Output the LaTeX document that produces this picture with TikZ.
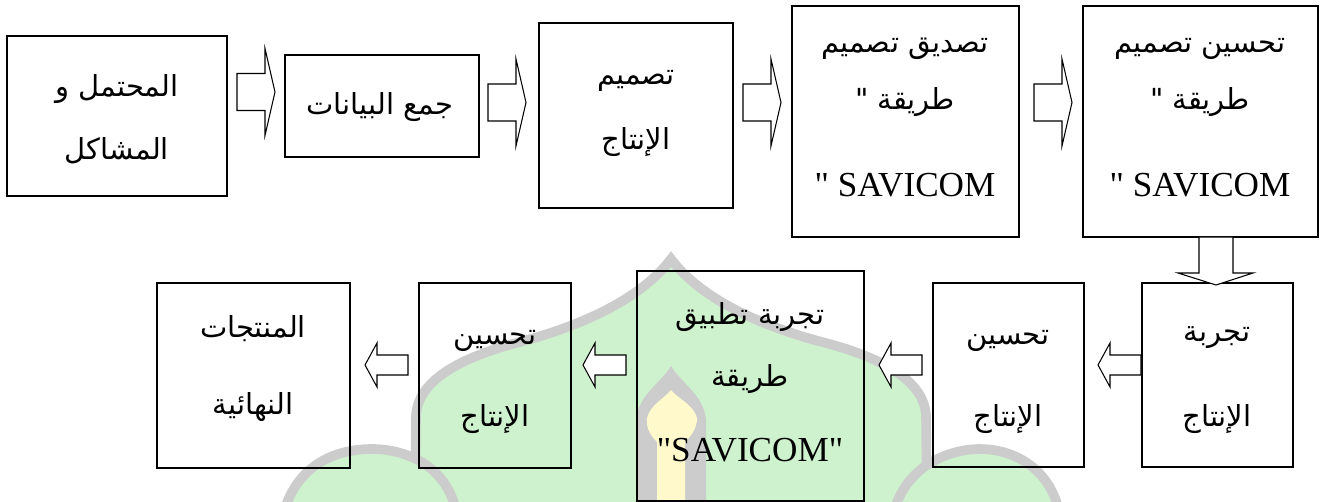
\documentclass[tikz,border=0pt]{standalone}
\usepackage{fontspec}
\setmainfont{Liberation Serif}
\newfontfamily\latinfont{Liberation Serif}
\newfontfamily\arabicfont[Script=Arabic]{DejaVu Sans}
\TeXXeTstate=1
\usetikzlibrary{fit}

\definecolor{wmgreen}{RGB}{205,242,205}
\definecolor{wmgray}{RGB}{204,204,204}
\definecolor{wmyellow}{RGB}{255,249,204}

\tikzset{
  box/.style={draw, line width=0.75pt, inner sep=0pt},
  atxt/.style={anchor=base, font=\arabicfont\fontsize{16.5}{18}\selectfont},
  ltxt/.style={anchor=base, font=\latinfont\fontsize{20}{22}\selectfont},
  barrow/.style={draw, fill=white, line width=0.6pt, line join=miter},
  wm/.style={draw=wmgray, fill=wmgreen, line width=5.5pt},
}

\begin{document}
\begin{tikzpicture}[x=0.02cm, y=-0.02cm]
\useasboundingbox (0,0) rectangle (1325,502);

% watermark
\begin{scope}
\clip (0,0) rectangle (1325,502);
\draw[wm] (415,515) -- (416,415) .. controls (418,385) and (450,360) .. (520,342)
  .. controls (580,326) and (640,300) .. (671,259)
  .. controls (702,300) and (762,326) .. (822,342)
  .. controls (892,360) and (924,385) .. (926,415) -- (927,515) -- cycle;
\draw[wm] (283,515) .. controls (298,458) and (345,449) .. (372,449)
  .. controls (405,449) and (448,465) .. (457,515) -- cycle;
\draw[wm] (893,515) .. controls (905,465) and (950,449) .. (980,449)
  .. controls (1010,449) and (1050,465) .. (1060,515) -- cycle;
\fill[wmgray] (636,515) -- (636,420) .. controls (638,395) and (662,382) .. (671,366)
  .. controls (680,382) and (704,395) .. (706,420) -- (706,515) -- cycle;
\fill[wmyellow] (657,515) -- (657,442) .. controls (650,435) and (646,428) .. (647,418)
  .. controls (650,405) and (665,398) .. (671,390)
  .. controls (677,398) and (694,405) .. (697,418)
  .. controls (697,428) and (692,435) .. (685,442) -- (685,515) -- cycle;
\end{scope}

% top row
\node[box, fit={(7,36) (227,196)}] (b1) {};
\node[atxt] (b1a) at (117,97) {\beginR المحتمل و\endR};
\node[atxt] (b1b) at (117,160) {\beginR المشاكل\endR};

\node[box, fit={(285,55) (479,157)}] (b2) {};
\node[atxt] (b2a) at (380,115) {\beginR جمع البيانات\endR};

\node[box, fit={(539,23) (733,208)}] (b3) {};
\node[atxt] (b3a) at (636,85) {\beginR تصميم\endR};
\node[atxt] (b3b) at (636,150) {\beginR الإنتاج\endR};

\node[box, fit={(792,6) (1019,237)}] (b4) {};
\node[atxt] (b4a) at (905,53) {\beginR تصديق تصميم\endR};
\node[atxt] (b4b) at (905,110) {\beginR طريقة "\endR};
\node[ltxt] (b4c) at (905,197) {" SAVICOM};

\node[box, fit={(1083,6) (1318,237)}] (b5) {};
\node[atxt] (b5a) at (1200,53) {\beginR تحسين تصميم\endR};
\node[atxt] (b5b) at (1200,110) {\beginR طريقة "\endR};
\node[ltxt] (b5c) at (1200,197) {" SAVICOM};

% bottom row
\node[box, fit={(1142,283) (1293,467)}] (b6) {};
\node[atxt] (b6a) at (1217,342) {\beginR تجربة\endR};
\node[atxt] (b6b) at (1217,427) {\beginR الإنتاج\endR};

\node[box, fit={(933,283) (1084,467)}] (b7) {};
\node[atxt] (b7a) at (1008,345) {\beginR تحسين\endR};
\node[atxt] (b7b) at (1008,427) {\beginR الإنتاج\endR};

\node[box, fit={(637,271) (864,501)}] (b8) {};
\node[atxt] (b8a) at (750,325) {\beginR تجربة تطبيق\endR};
\node[atxt] (b8b) at (750,387) {\beginR طريقة\endR};
\node[ltxt] (b8c) at (750,462) {"SAVICOM"};

\node[box, fit={(419,283) (571,468)}] (b9) {};
\node[atxt] (b9a) at (495,345) {\beginR تحسين\endR};
\node[atxt] (b9b) at (495,427) {\beginR الإنتاج\endR};

\node[box, fit={(157,283) (350,468)}] (b10) {};
\node[atxt] (b10a) at (253,338) {\beginR المنتجات\endR};
\node[atxt] (b10b) at (253,415) {\beginR النهائية\endR};

% block arrows
\foreach \x/\y in {237/92, 488/102.5, 743/102.5, 1034/102.5} {
  \draw[barrow] (\x,\y-18.5) -- (\x+28,\y-18.5) -- (\x+28,\y-43.5) -- (\x+38,\y)
    -- (\x+28,\y+43.5) -- (\x+28,\y+18.5) -- (\x,\y+18.5) -- cycle;
}
\foreach \x in {1098,879,583,365} {
  \draw[barrow] (\x,365) -- (\x+12,343) -- (\x+12,355) -- (\x+43,355)
    -- (\x+43,375) -- (\x+12,375) -- (\x+12,387) -- cycle;
}
\draw[barrow] (1199,237) -- (1233,237) -- (1233,273) -- (1253,273)
  -- (1216,285) -- (1178,273) -- (1199,273) -- cycle;

\end{tikzpicture}
\end{document}
